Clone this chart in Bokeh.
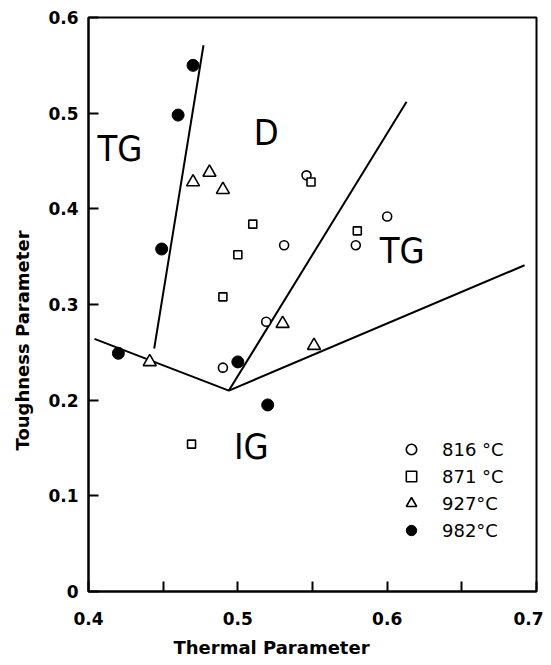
from bokeh.plotting import figure
from bokeh.models import FixedTicker, Title, Legend, LegendItem, ColumnDataSource
from bokeh.core.properties import value
from bokeh.embed import file_html
from bokeh.resources import INLINE

# ---- data ----
t816_x = [0.490, 0.519, 0.531, 0.546, 0.579, 0.600]
t816_y = [0.234, 0.282, 0.362, 0.435, 0.362, 0.392]
t871_x = [0.469, 0.490, 0.500, 0.510, 0.549, 0.580]
t871_y = [0.154, 0.308, 0.352, 0.384, 0.428, 0.377]
t927_x = [0.441, 0.470, 0.481, 0.490, 0.530, 0.551]
t927_y = [0.240, 0.428, 0.438, 0.420, 0.280, 0.257]
t982_x = [0.420, 0.449, 0.460, 0.470, 0.500, 0.520]
t982_y = [0.249, 0.358, 0.498, 0.550, 0.240, 0.195]

legend_labels = ["816 °C", "871 °C", "927°C", "982°C"]

# regime boundary lines
bound1_x = [0.444, 0.477]
bound1_y = [0.254, 0.571]
bound2_x = [0.404, 0.494, 0.692]
bound2_y = [0.264, 0.210, 0.341]
bound3_x = [0.494, 0.613]
bound3_y = [0.210, 0.512]

region_text = ["TG", "D", "TG", "IG"]
region_x = [0.421, 0.519, 0.610, 0.509]
region_y = [0.463, 0.480, 0.356, 0.152]

x_major = [0.4, 0.5, 0.6, 0.7]
x_minor = [0.45, 0.55, 0.65]
y_ticks = [0, 0.1, 0.2, 0.3, 0.4, 0.5, 0.6]

# ---- figure ----
p = figure(width=543, height=665, x_range=(0.4, 0.7), y_range=(0, 0.6),
           output_backend="svg", toolbar_location=None,
           min_border_left=88, min_border_right=7, min_border_top=17, min_border_bottom=74)
p.grid.visible = False
p.outline_line_color = "black"
p.outline_line_width = 2
p.background_fill_color = "white"
p.border_fill_color = "white"

tick_font = "DejaVu Sans"
for ax in (p.xaxis[0], p.yaxis[0]):
    ax.axis_line_width = 2
    ax.major_tick_in = 10
    ax.major_tick_out = 0
    ax.major_tick_line_width = 2
    ax.minor_tick_in = 10
    ax.minor_tick_out = 0
    ax.minor_tick_line_width = 2
    ax.major_label_text_font = tick_font
    ax.major_label_text_font_size = "17px"
    ax.major_label_text_font_style = "bold"
    ax.major_label_text_color = "black"

p.xaxis[0].ticker = FixedTicker(ticks=x_major, minor_ticks=x_minor)
p.xaxis[0].major_label_standoff = 20
p.yaxis[0].ticker = FixedTicker(ticks=y_ticks, minor_ticks=[])
p.yaxis[0].major_label_overrides = {0: "0"}
p.yaxis[0].major_label_standoff = 10

# axis titles (offset toward the origin, as in the reference)
p.add_layout(Title(text="Thermal Parameter", align="left", offset=85,
                   text_font=tick_font, text_font_size="18px", text_font_style="bold",
                   text_color="black", standoff=14), "below")
p.add_layout(Title(text="Toughness Parameter", align="left", offset=141,
                   vertical_align="top",
                   text_font=tick_font, text_font_size="18px", text_font_style="bold",
                   text_color="black", standoff=22), "left")

# boundary lines
p.line(bound1_x, bound1_y, line_color="black", line_width=2)
p.line(bound2_x, bound2_y, line_color="black", line_width=2)
p.line(bound3_x, bound3_y, line_color="black", line_width=2)

# region labels
src = ColumnDataSource(dict(x=region_x, y=region_y, t=region_text))
p.text(x="x", y="y", text="t", source=src, text_align="center", text_baseline="middle",
       text_font=value("DejaVu Sans Condensed, sans-serif"),
       text_font_size="36px", text_color="black")

# data points
r816 = p.scatter(t816_x, t816_y, marker="circle", size=9, fill_color="white",
                 line_color="black", line_width=1.6)
r871 = p.scatter(t871_x, t871_y, marker="square", size=8, fill_color="white",
                 line_color="black", line_width=1.6)
r927 = p.scatter(t927_x, t927_y, marker="triangle", size=13, fill_color="white",
                 line_color="black", line_width=1.6)
r982 = p.scatter(t982_x, t982_y, marker="circle", size=12, fill_color="black",
                 line_color="black", line_width=1)

legend = Legend(items=[LegendItem(label=legend_labels[0], renderers=[r816]),
                       LegendItem(label=legend_labels[1], renderers=[r871]),
                       LegendItem(label=legend_labels[2], renderers=[r927]),
                       LegendItem(label=legend_labels[3], renderers=[r982])],
                location=(310, 48), border_line_color=None, background_fill_alpha=0,
                padding=0, margin=0, spacing=1, glyph_width=26, glyph_height=26,
                label_height=20, label_standoff=18, label_text_color="black",
                label_text_font="DejaVu Sans", label_text_font_size="18px")
p.add_layout(legend)

open("out.html", "w").write(file_html(p, INLINE))
